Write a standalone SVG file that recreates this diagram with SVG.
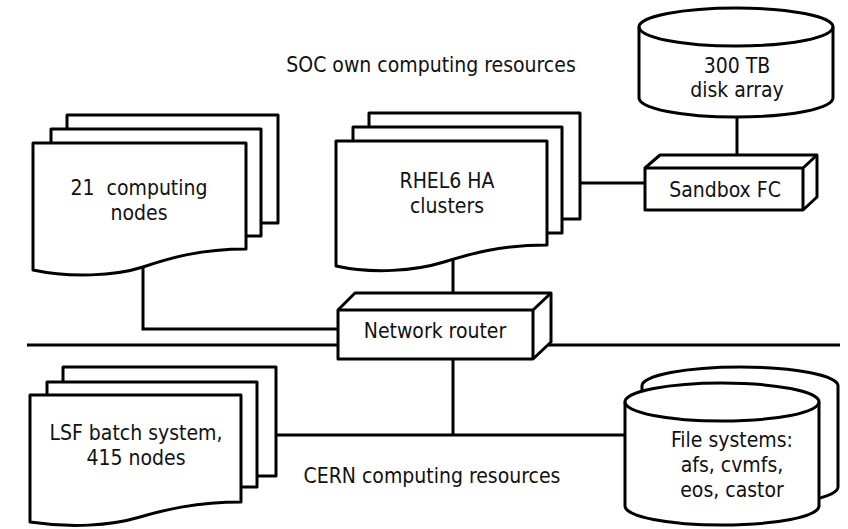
<svg xmlns="http://www.w3.org/2000/svg" width="848" height="529" viewBox="0 0 848 529">
<style>
.s{fill:#fff;stroke:#000;stroke-width:3;stroke-linejoin:round}
.c{fill:none;stroke:#000;stroke-width:3}
text{font-family:"DejaVu Sans Condensed","DejaVu Sans",sans-serif;font-stretch:condensed;font-size:21px;fill:#111;text-anchor:middle;white-space:pre}
</style>
<rect width="848" height="529" fill="#fff"/>
<g id="connectors">
<line class="c" x1="27" y1="345" x2="840" y2="345"/>
<polyline class="c" points="143,260 143,329 340,329"/>
<line class="c" x1="453" y1="255" x2="453" y2="295"/>
<line class="c" x1="578" y1="183" x2="646" y2="183"/>
<line class="c" x1="737" y1="110" x2="737" y2="157"/>
<line class="c" x1="453" y1="358" x2="453" y2="435"/>
<line class="c" x1="276" y1="435" x2="627" y2="435"/>
</g>
<g id="soc-label"><text x="431" y="72">SOC own computing resources</text></g>
<g id="cern-label"><text x="432" y="483">CERN computing resources</text></g>
<g id="computing-nodes">
<path class="s" d="M67,115 H278 V223 H67 Z"/>
<path class="s" d="M51,129 H261 V236 H51 Z"/>
<path class="s" d="M33,143 H246 V249 C200,249 170,258 143,267 C115,276 70,278 33,270 Z"/>
<text x="139" y="195" xml:space="preserve">21  computing</text>
<text x="139" y="220">nodes</text>
</g>
<g id="rhel6">
<path class="s" d="M369,113 H580 V219 H369 Z"/>
<path class="s" d="M353,127 H562 V233 H353 Z"/>
<path class="s" d="M336,141 H547 V245 C500,245 470,254 444,262 C415,271 372,274 336,266 Z"/>
<text x="447" y="188">RHEL6 HA</text>
<text x="447" y="213">clusters</text>
</g>
<g id="disk-array">
<path class="s" d="M639,27 V98 A97,19 0 0 0 833,98 V27 A97,19 0 0 0 639,27 Z"/>
<path class="c" d="M639,27 A97,19 0 0 0 833,27"/>
<text x="737" y="73">300 TB</text>
<text x="737" y="97">disk array</text>
</g>
<g id="sandbox-fc">
<path class="s" d="M645,168 L660,155 H817 V197 L803,210 H645 Z"/>
<path class="c" d="M645,168 H803 L817,155 M803,168 V210"/>
<text x="725" y="197">Sandbox FC</text>
</g>
<g id="network-router">
<path class="s" d="M338,310 L355,293 H551 V342 L533,359 H338 Z"/>
<path class="c" d="M338,310 H533 L551,293 M533,310 V359"/>
<text x="435" y="338">Network router</text>
</g>
<g id="lsf">
<path class="s" d="M63,367 H276 V476 H63 Z"/>
<path class="s" d="M47,382 H257 V487 H47 Z"/>
<path class="s" d="M30,395 H241 V502 C195,502 165,510 140,517 C110,526 70,528 30,522 Z"/>
<text x="136" y="440">LSF batch system,</text>
<text x="136" y="465">415 nodes</text>
</g>
<g id="file-systems">
<path class="s" d="M642,386 V487 A98,19 0 0 0 838,487 V386 A98,19 0 0 0 642,386 Z"/>
<path class="s" d="M625,402 V506 A97,19 0 0 0 819,506 V402 A97,19 0 0 0 625,402 Z"/>
<path class="c" d="M625,402 A97,19 0 0 0 819,402"/>
<text x="732" y="447">File systems:</text>
<text x="732" y="472">afs, cvmfs,</text>
<text x="732" y="497">eos, castor</text>
</g>
</svg>
